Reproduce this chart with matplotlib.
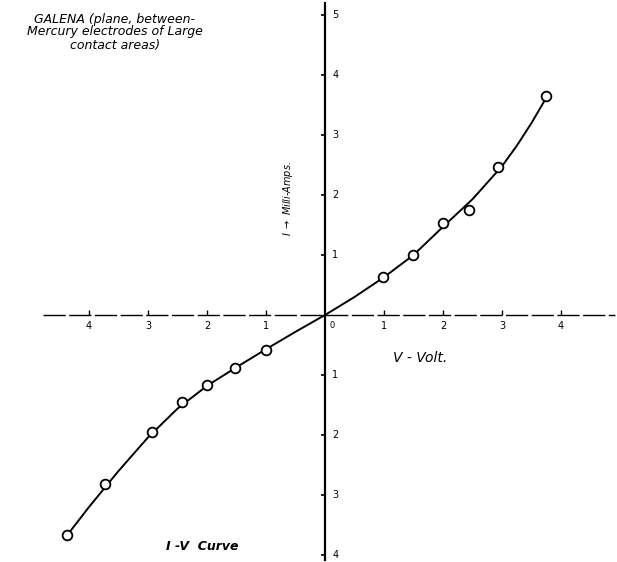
import numpy as np
import matplotlib
matplotlib.use("Agg")
import matplotlib.pyplot as plt

# measured points (V in volts, I in milli-amps)
mark_v = [-4.37, -3.73, -2.93, -2.42, -2.0, -1.53, -1.0, 0.98, 1.49, 2.0, 2.44, 2.93, 3.75]
mark_i = [-3.67, -2.82, -1.95, -1.45, -1.17, -0.88, -0.58, 0.63, 1.0, 1.53, 1.75, 2.47, 3.65]
# hand-drawn smooth curve
curve_v = [-4.37, -4.0, -3.5, -3.0, -2.5, -2.0, -1.5, -1.0, -0.5, 0.0,
           0.5, 1.0, 1.5, 2.0, 2.5, 3.0, 3.25, 3.5, 3.75]
curve_i = [-3.67, -3.2, -2.6, -2.04, -1.56, -1.18, -0.87, -0.57, -0.28, 0.0,
           0.3, 0.63, 1.0, 1.47, 1.93, 2.48, 2.82, 3.2, 3.62]

xticks = [-4, -3, -2, -1, 1, 2, 3, 4]
xlabels = ['4', '3', '2', '1', '1', '2', '3', '4']
yticks = [-4, -3, -2, -1, 1, 2, 3, 4, 5]
ylabels = ['4', '3', '2', '1', '1', '2', '3', '4', '5']

fig = plt.figure(figsize=(6.17, 5.62), dpi=100)
ax = fig.add_axes([0, 0, 1, 1])
# origin at pixel (325, 315), 59 px per volt, 60 px per mA
ax.set_xlim(-325 / 59, 292 / 59)
ax.set_ylim(-247 / 60, 315 / 60)
ax.axis('off')

# axes drawn by hand like the original sheet
ax.plot([-4.78, 4.92], [0, 0], color='k', lw=1.0, dashes=(16, 2.5))
ax.plot([0, 0], [-4.08, 5.2], color='k', lw=1.6)

ax.vlines(xticks, 0, 0.09, color='k', lw=1.0)
for x, lab in zip(xticks, xlabels):
    ax.text(x, -0.1, lab, ha='center', va='top', fontsize=7)
ax.hlines(yticks, -0.07, 0, color='k', lw=1.2)
for y, lab in zip(yticks, ylabels):
    ax.text(0.12, y, lab, ha='left', va='center', fontsize=7)
ax.text(0.07, -0.1, '0', ha='left', va='top', fontsize=6)

ax.plot(curve_v, curve_i, color='k', lw=1.4)
ax.plot(mark_v, mark_i, 'o', ms=7, mfc='white', mec='k', mew=1.3)

ax.text(115 / 59 - 325 / 59, (315 - 32) / 60,
        'GALENA (plane, between-\nMercury electrodes of Large\ncontact areas)',
        ha='center', va='center', fontsize=9, style='italic', linespacing=1.0)
ax.text(-0.62, 1.95, r'I $\rightarrow$ Milli-Amps.', rotation=90,
        ha='center', va='center', fontsize=7, style='italic')
ax.text(1.15, -0.72, 'V - Volt.', ha='left', va='center',
        fontsize=10, style='italic')
ax.text(-2.7, -3.85, 'I -V  Curve', ha='left', va='center',
        fontsize=9, style='italic', weight='bold')

fig.savefig('out.png', dpi=100)
